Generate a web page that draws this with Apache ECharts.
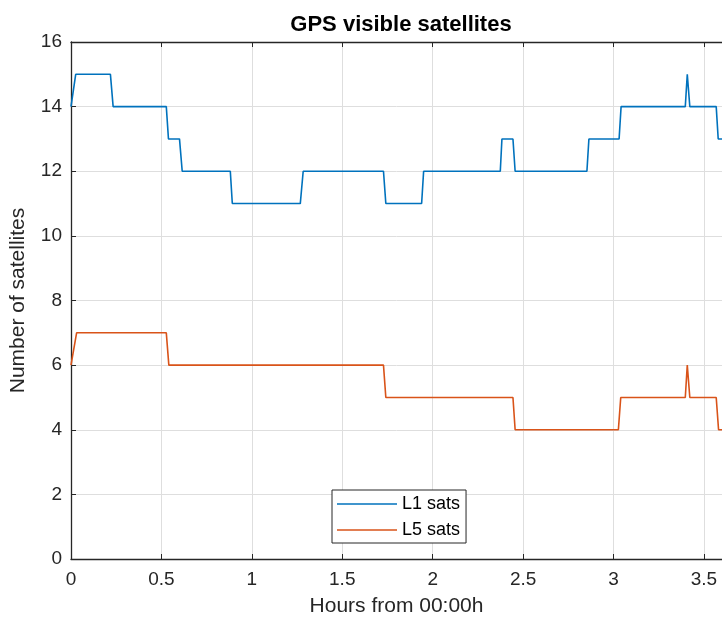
<!DOCTYPE html>
<html>
<head>
<meta charset="utf-8">
<script src="https://cdn.jsdelivr.net/npm/echarts@6/dist/echarts.min.js"></script>
<style>
html,body{margin:0;padding:0;background:#fff;}
#chart{width:722px;height:622px;}
</style>
</head>
<body>
<div id="chart"></div>
<script>
const l1Hours = [0, 0.026, 0.218, 0.233, 0.527, 0.539, 0.600, 0.615, 0.881, 0.892, 1.268, 1.284, 1.728, 1.741, 1.939, 1.950, 2.374, 2.383, 2.444, 2.456, 2.853, 2.864, 3.031, 3.042, 3.397, 3.408, 3.422, 3.568, 3.579, 3.6];
const l1Sats  = [14, 15, 15, 14, 14, 13, 13, 12, 12, 11, 11, 12, 12, 11, 11, 12, 12, 13, 13, 12, 12, 13, 13, 14, 14, 15, 14, 14, 13, 13];
const l5Hours = [0, 0.031, 0.527, 0.541, 1.728, 1.741, 2.444, 2.456, 3.027, 3.040, 3.397, 3.408, 3.422, 3.568, 3.581, 3.6];
const l5Sats  = [6, 7, 7, 6, 6, 5, 5, 4, 4, 5, 5, 6, 5, 5, 4, 4];
const seriesNames = ['L1 sats', 'L5 sats'];
const titleText = 'GPS visible satellites';
const xName = 'Hours from 00:00h';
const yName = 'Number of satellites';

const txt = '#262626';
const font = '"Liberation Sans", Arial, Helvetica, sans-serif';
const chart = echarts.init(document.getElementById('chart'), null, {renderer: 'canvas'});
const toPairs = (xs, ys) => xs.map((x, i) => [x, ys[i]]);

chart.setOption({
  backgroundColor: '#ffffff',
  animation: false,
  textStyle: {fontFamily: font, color: txt},
  title: {
    text: titleText, left: 396, top: 9, textAlign: 'center',
    textStyle: {fontFamily: font, fontWeight: 'bold', fontSize: 22, color: '#000'}
  },
  grid: {left: 71, top: 42, bottom: 62, right: -3, containLabel: false},
  legend: {
    left: 332, top: 490, orient: 'vertical',
    data: seriesNames,
    icon: 'rect', itemWidth: 60, itemHeight: 1.5, itemGap: 6,
    padding: [4, 6, 3, 5],
    borderColor: txt, borderWidth: 1, backgroundColor: '#fff',
    textStyle: {fontFamily: font, fontSize: 18, color: '#000', lineHeight: 20}
  },
  xAxis: [{
    type: 'value', min: 0, max: 3.6, interval: 0.5, position: 'bottom',
    name: xName, nameLocation: 'middle', nameGap: 37,
    nameTextStyle: {fontFamily: font, fontSize: 21, color: txt},
    axisLine: {show: true, lineStyle: {color: txt, width: 1.3}},
    axisTick: {show: true, inside: true, length: 5, lineStyle: {color: txt}},
    axisLabel: {fontFamily: font, fontSize: 19, color: txt, margin: 11, showMaxLabel: false,
      formatter: v => String(v)},
    splitLine: {show: true, lineStyle: {color: '#dedede', width: 1}}
  }, {
    type: 'value', min: 0, max: 3.6, interval: 0.5, position: 'top',
    axisLine: {show: true, lineStyle: {color: txt, width: 1.3}},
    axisTick: {show: true, inside: true, length: 5, lineStyle: {color: txt}},
    axisLabel: {show: false},
    splitLine: {show: false}
  }],
  yAxis: {
    type: 'value', min: 0, max: 16, interval: 2,
    name: yName, nameLocation: 'middle', nameGap: 42,
    nameTextStyle: {fontFamily: font, fontSize: 21, color: txt},
    axisLine: {show: true, lineStyle: {color: txt, width: 1.3}},
    axisTick: {show: true, inside: true, length: 5, lineStyle: {color: txt}},
    axisLabel: {fontFamily: font, fontSize: 19, color: txt, margin: 9},
    splitLine: {show: true, lineStyle: {color: '#dedede', width: 1}}
  },
  series: [{
    name: seriesNames[0], type: 'line', xAxisIndex: 0,
    data: toPairs(l1Hours, l1Sats), showSymbol: false, symbol: 'none',
    lineStyle: {color: '#0072BD', width: 1.6}, itemStyle: {color: '#0072BD'}
  }, {
    name: seriesNames[1], type: 'line', xAxisIndex: 0,
    data: toPairs(l5Hours, l5Sats), showSymbol: false, symbol: 'none',
    lineStyle: {color: '#D95319', width: 1.6}, itemStyle: {color: '#D95319'}
  }]
});
</script>
</body>
</html>
